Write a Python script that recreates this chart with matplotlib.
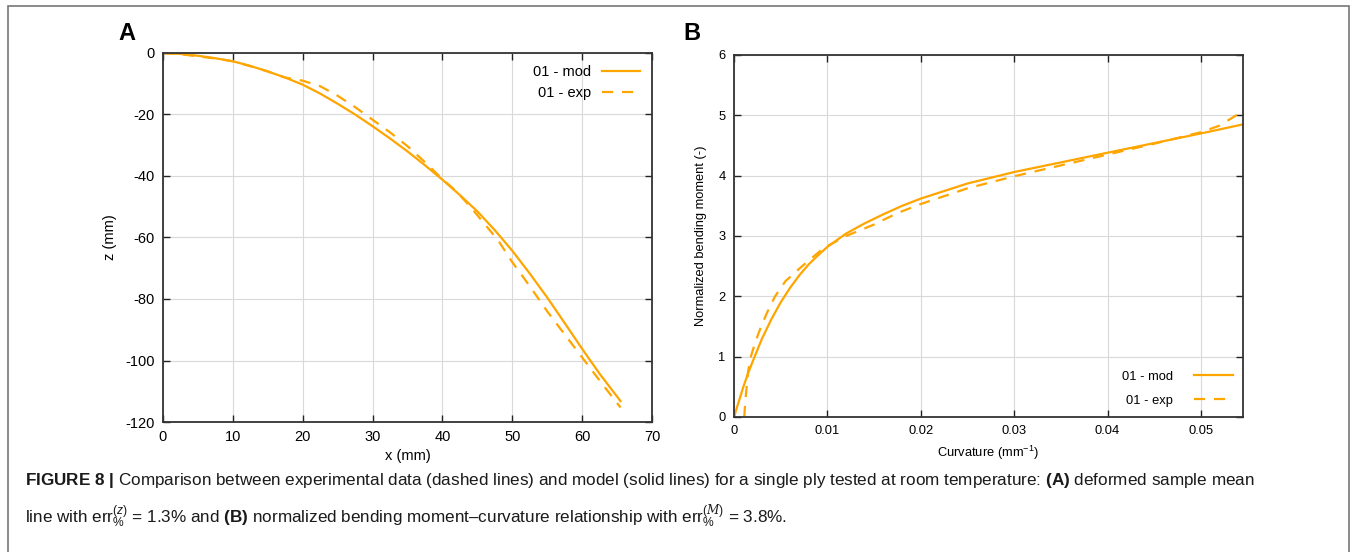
import matplotlib
matplotlib.use("Agg")
import matplotlib.pyplot as plt
from matplotlib.patches import Rectangle

plt.rcParams['font.family'] = ['Liberation Sans', 'DejaVu Sans']
plt.rcParams['axes.unicode_minus'] = False
plt.rcParams['mathtext.fontset'] = 'custom'
plt.rcParams['mathtext.rm'] = 'Liberation Sans'
plt.rcParams['mathtext.it'] = 'Liberation Sans:italic'
plt.rcParams['mathtext.bf'] = 'Liberation Sans:bold'
plt.rcParams['mathtext.cal'] = 'DejaVu Serif:italic'

ORANGE = '#ffa500'

# panel A: deformed mean line
a_mod_x = [0, 2.5, 5, 7.5, 10, 12.5, 15, 17.5, 20, 22.5, 25, 27.5, 30, 32.5, 35, 37.5, 40,
           42.5, 45, 47.5, 50, 52.5, 55, 57.5, 60, 62.5, 65.5]
a_mod_z = [0, -0.3, -0.9, -1.7, -2.7, -4.2, -6.0, -8.0, -10.3, -13.2, -16.5, -20.0, -23.8,
           -27.8, -32.0, -36.5, -41.2, -46.2, -51.5, -57.6, -64.3, -71.7, -79.5, -87.8,
           -96.2, -104.3, -113.2]

a_exp_x = [0, 2.5, 5, 7.5, 10, 12.5, 15, 17.5, 20, 22.5, 25, 27.5, 30, 32.5, 35, 37.5, 40,
           42, 44, 46, 48, 50, 52.5, 55, 57.5, 60, 62.5, 65.5]
a_exp_z = [0, -0.4, -1.1, -1.8, -2.7, -4.3, -6.0, -8.0, -9.0, -10.8, -13.9, -17.6, -21.7,
           -25.8, -30.3, -35.5, -41.0, -45.0, -50.0, -55.5, -61.0, -68.0, -75.8, -84.0,
           -91.5, -99.0, -106.5, -115.3]

# panel B: moment-curvature
b_mod_k = [0, 0.0005, 0.001, 0.0015, 0.002, 0.003, 0.004, 0.005, 0.006, 0.007, 0.008, 0.009,
           0.01, 0.012, 0.014, 0.016, 0.018, 0.02, 0.025, 0.03, 0.035, 0.04, 0.045, 0.05, 0.0545]
b_mod_m = [0, 0.25, 0.5, 0.72, 0.92, 1.3, 1.62, 1.9, 2.14, 2.35, 2.53, 2.68, 2.82, 3.04, 3.21,
           3.36, 3.50, 3.62, 3.87, 4.06, 4.22, 4.38, 4.54, 4.70, 4.85]

b_exp_k = [0.0011, 0.0012, 0.00136, 0.0015, 0.0018, 0.0023, 0.0029, 0.0036, 0.0044, 0.0055,
           0.0073, 0.0096, 0.012, 0.015, 0.0175, 0.02, 0.025, 0.03, 0.035, 0.04, 0.045, 0.05,
           0.052, 0.0545]
b_exp_m = [0, 0.25, 0.5, 0.75, 1.0, 1.25, 1.5, 1.75, 2.0, 2.25, 2.5, 2.8, 3.0, 3.19, 3.38,
           3.53, 3.79, 3.99, 4.17, 4.35, 4.53, 4.72, 4.83, 5.07]


def style_axes(ax, size):
    ax.grid(True, color='#d9d9d9', lw=0.8)
    ax.set_axisbelow(True)
    ax.tick_params(direction='in', top=True, right=True, length=5, width=1,
                   labelsize=size, pad=6, color='#222222')
    for s in ax.spines.values():
        s.set_linewidth(1.3)
        s.set_color('#333333')


fig = plt.figure(figsize=(13.56, 5.52), dpi=100)

# --- A ---
axA = fig.add_axes([0.1202, 0.2355, 0.3606, 0.6685])
axA.plot(a_mod_x, a_mod_z, color=ORANGE, lw=1.6, label='01 - mod')
axA.plot(a_exp_x, a_exp_z, color=ORANGE, lw=1.6, dashes=(5, 4), label='01 - exp')
axA.set_xlim(0, 70)
axA.set_ylim(-120, 0)
axA.set_xticks(range(0, 71, 10))
axA.set_yticks(range(-120, 1, 20))
style_axes(axA, 10.5)
axA.set_xlabel('x (mm)', fontsize=10.5, labelpad=3)
axA.set_ylabel('z (mm)', fontsize=10.5, labelpad=6)
axA.legend(loc='upper right', markerfirst=False, frameon=False, fontsize=10.5,
           handlelength=2.6, labelspacing=0.5, borderaxespad=0.4)

# --- B ---
axB = fig.add_axes([0.5413, 0.2446, 0.3754, 0.6558])
axB.plot(b_mod_k, b_mod_m, color=ORANGE, lw=1.6, label='01 - mod')
axB.plot(b_exp_k, b_exp_m, color=ORANGE, lw=1.6, dashes=(5, 4), label='01 - exp')
axB.set_xlim(0, 0.0545)
axB.set_ylim(0, 6)
axB.set_xticks([0, 0.01, 0.02, 0.03, 0.04, 0.05])
axB.set_xticklabels(['0', '0.01', '0.02', '0.03', '0.04', '0.05'])
axB.set_yticks(range(0, 7))
style_axes(axB, 9.3)
axB.set_xlabel('Curvature (mm$^{-1}$)', fontsize=9.3, labelpad=5)
axB.set_ylabel('Normalized bending moment (-)', fontsize=9.3, labelpad=8)
axB.legend(loc='lower right', markerfirst=False, frameon=False, fontsize=9.3,
           handlelength=3.0, labelspacing=0.9, handletextpad=1.6,
           borderaxespad=0.2, borderpad=0.6)

fig.text(127 / 1356, 1 - 33 / 552, 'A', fontsize=17, fontweight='bold', ha='center', va='center')
fig.text(692 / 1356, 1 - 33 / 552, 'B', fontsize=17, fontweight='bold', ha='center', va='center')

cap1 = (r'$\mathbf{FIGURE\ 8\ |}$ Comparison between experimental data (dashed lines) and model '
        r'(solid lines) for a single ply tested at room temperature: $\mathbf{(A)}$ deformed sample mean')
cap2 = (r'line with err$^{(z)}_{\%}$ = 1.3% and $\mathbf{(B)}$ normalized bending moment–curvature '
        r'relationship with err$^{(\mathcal{M})}_{\%}$ = 3.8%.')
fig.text(25 / 1356, 1 - 480 / 552, cap1, fontsize=12.3, va='center', color='#1a1a1a')
fig.text(25 / 1356, 1 - 517 / 552, cap2, fontsize=12.3, va='center', color='#1a1a1a')

fig.patches.append(Rectangle((8 / 1356, -0.05), (1349 - 8) / 1356, 1.05 - 6 / 552,
                             transform=fig.transFigure, fill=False,
                             edgecolor='#777777', lw=1.2, clip_on=False))

fig.savefig('out.png', dpi=100)
